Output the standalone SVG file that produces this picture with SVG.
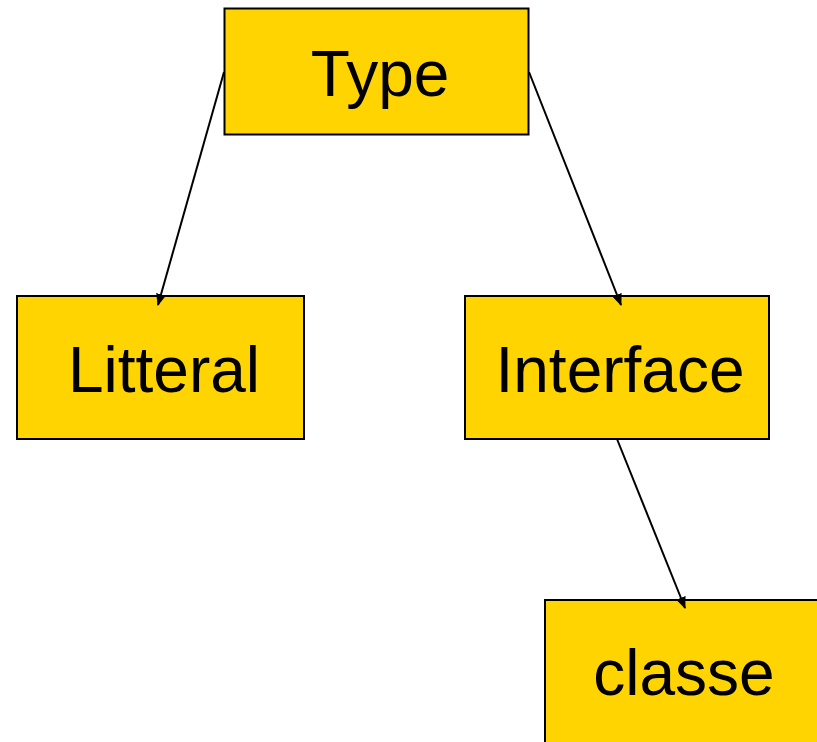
<svg xmlns="http://www.w3.org/2000/svg" width="817" height="742" viewBox="0 0 817 742">
  <style>
    .box { fill: #FFD400; stroke: #000; stroke-width: 2; }
    .lbl { font-family: "Liberation Sans", Arial, sans-serif; font-size: 64px; fill: #000; text-anchor: middle; }
    .edge { stroke: #000; stroke-width: 2; fill: none; marker-end: url(#head); }
  </style>
  <defs>
    <marker id="head" markerWidth="12" markerHeight="12" refX="11" refY="6" orient="auto" markerUnits="userSpaceOnUse">
      <path d="M0,1 L12,6 L0,11 Z" fill="#000"/>
    </marker>
  </defs>
  <rect width="817" height="742" fill="#fff"/>
  <g id="node-type">
    <rect class="box" x="224.5" y="8.5" width="304" height="126"/>
    <text class="lbl" x="380" y="96">Type</text>
  </g>
  <g id="node-litteral">
    <rect class="box" x="17" y="296" width="287" height="143"/>
    <text class="lbl" x="164" y="392">Litteral</text>
  </g>
  <g id="node-interface">
    <rect class="box" x="465" y="296" width="304" height="143"/>
    <text class="lbl" x="620" y="392">Interface</text>
  </g>
  <g id="node-classe">
    <rect class="box" x="545" y="600" width="280" height="160"/>
    <text class="lbl" x="684" y="695">classe</text>
  </g>
  <g id="connectors">
    <line class="edge" x1="224" y1="72" x2="158" y2="305"/>
    <line class="edge" x1="529" y1="72" x2="621" y2="305"/>
    <line class="edge" x1="617" y1="439" x2="685" y2="608"/>
  </g>
</svg>
